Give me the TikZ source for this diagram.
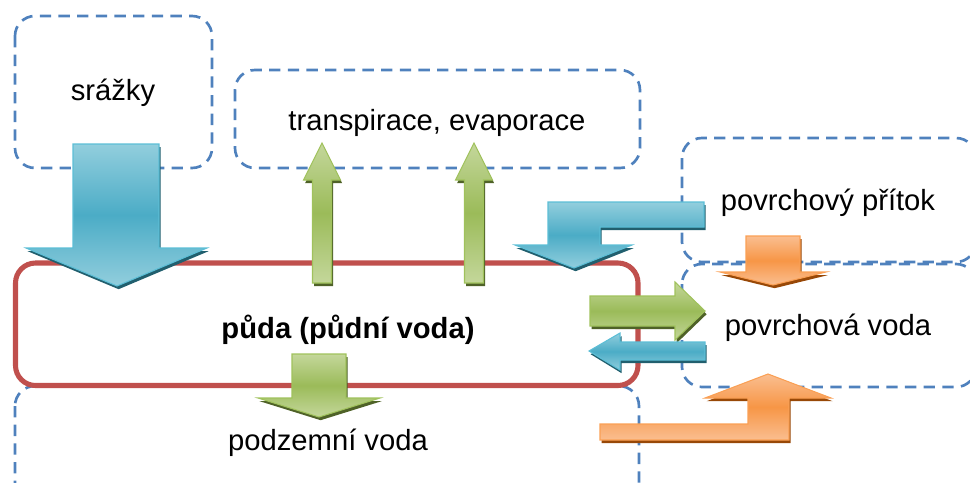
\documentclass[tikz,border=0pt]{standalone}
\usepackage{fontspec}
\setmainfont{Liberation Sans}

\definecolor{boxblue}{RGB}{79,129,189}
\definecolor{soilred}{RGB}{192,80,77}
\definecolor{wblue}{RGB}{75,172,198}
\definecolor{wbluelight}{RGB}{146,206,221}
\definecolor{wbluedark}{RGB}{33,95,110}
\definecolor{wblueline}{RGB}{92,190,214}
\definecolor{wgreen}{RGB}{155,187,89}
\definecolor{wgreenlight}{RGB}{196,215,155}
\definecolor{wgreendark}{RGB}{79,98,40}
\definecolor{wgreenline}{RGB}{160,194,92}
\definecolor{worange}{RGB}{247,150,70}
\definecolor{worangelight}{RGB}{250,190,144}
\definecolor{worangedark}{RGB}{152,72,7}
\definecolor{worangeline}{RGB}{250,160,85}

\begin{document}
\begin{tikzpicture}[x=0.75pt,y=0.75pt,yscale=-1,xscale=1,
  dashbox/.style={draw=boxblue, line width=2pt, dash pattern=on 8.5pt off 5.5pt, rounded corners=15pt},
  soilbox/.style={draw=soilred, line width=3.8pt, rounded corners=15pt},
  flowarrow/.style={draw=#1line, line width=0.8pt, top color=#1light, bottom color=#1light, middle color=#1,
    preaction={fill=#1dark, transform canvas={shift={(1.2pt,-2.4pt)}}}},
  boxtext/.style={inner sep=0.75pt, font=\fontsize{21.9}{26}\selectfont}]
\path[use as bounding box] (0,0) rectangle (970,482);
\clip (0,0) rectangle (970,482);

%Shape: Rounded Rect [id:srazky]
\draw [dashbox] (15,16) rectangle (212,168);
%Shape: Rounded Rect [id:transp]
\draw [dashbox] (235,70) rectangle (640,168);
%Shape: Rounded Rect [id:pritok]
\draw [dashbox] (682,138) rectangle (976,262);
%Shape: Rounded Rect [id:povrch]
\draw [dashbox] (682,264) rectangle (976,387);
%Shape: Rounded Rect [id:podzemni]
\draw [dashbox] (15,386) rectangle (639,505);

%Shape: Rounded Rect [id:puda]
\draw [soilbox] (15.5,263) rectangle (638,385.5);

% Text Node
\node [boxtext] (srazky) at (113,93) {srážky};
% Text Node
\node [boxtext] (transp) at (437,123) {transpirace, evaporace};
% Text Node
\node [boxtext] (pritok) at (828,203) {povrchový přítok};
% Text Node
\node [boxtext] (povrch) at (828,328) {povrchová voda};
% Text Node
\node [boxtext, font=\fontsize{21.9}{26}\selectfont\bfseries] (puda) at (348,330) {půda (půdní voda)};
% Text Node
\node [boxtext] (podzemni) at (328,443) {podzemní voda};

%Shape: Down Arrow [id:rain]
\draw [flowarrow=wblue] (73,144) -- (159,144) -- (159,248) -- (207,248) -- (117,286) -- (26,248) -- (73,248) -- cycle ;
%Shape: Up Arrow [id:transp1]
\draw [flowarrow=wgreen] (312.5,283) -- (312.5,180) -- (303.5,180) -- (322,143) -- (340.5,180) -- (331.5,180) -- (331.5,283) -- cycle ;
%Shape: Up Arrow [id:transp2]
\draw [flowarrow=wgreen] (464.5,283) -- (464.5,180) -- (455.5,180) -- (474,143) -- (492.5,180) -- (483.5,180) -- (483.5,283) -- cycle ;
%Shape: Bent Arrow [id:inflow]
\draw [flowarrow=wblue] (704,202) -- (548,202) -- (548,245) -- (515,245) -- (574,268) -- (632,245) -- (600,245) -- (600,227) -- (704,227) -- cycle ;
%Shape: Down Arrow [id:runoff]
\draw [flowarrow=worange] (746,236) -- (800,236) -- (800,272) -- (826,272) -- (773,285) -- (720,272) -- (746,272) -- cycle ;
%Shape: Right Arrow [id:toSurface]
\draw [flowarrow=wgreen] (590,296) -- (675,296) -- (675,282) -- (705,311) -- (675,340) -- (675,326) -- (590,326) -- cycle ;
%Shape: Left Arrow [id:toSoil]
\draw [flowarrow=wblue] (705,342) -- (620,342) -- (620,333) -- (589,351) -- (620,370) -- (620,360) -- (705,360) -- cycle ;
%Shape: Down Arrow [id:seepage]
\draw [flowarrow=wgreen] (292,354) -- (346,354) -- (346,398) -- (380,398) -- (319,417) -- (258,398) -- (292,398) -- cycle ;
%Shape: Bent Arrow [id:baseflow]
\draw [flowarrow=worange] (600,424) -- (748,424) -- (748,398) -- (705,398) -- (768,374) -- (831,398) -- (789,398) -- (789,440) -- (600,440) -- cycle ;

\end{tikzpicture}
\end{document}
